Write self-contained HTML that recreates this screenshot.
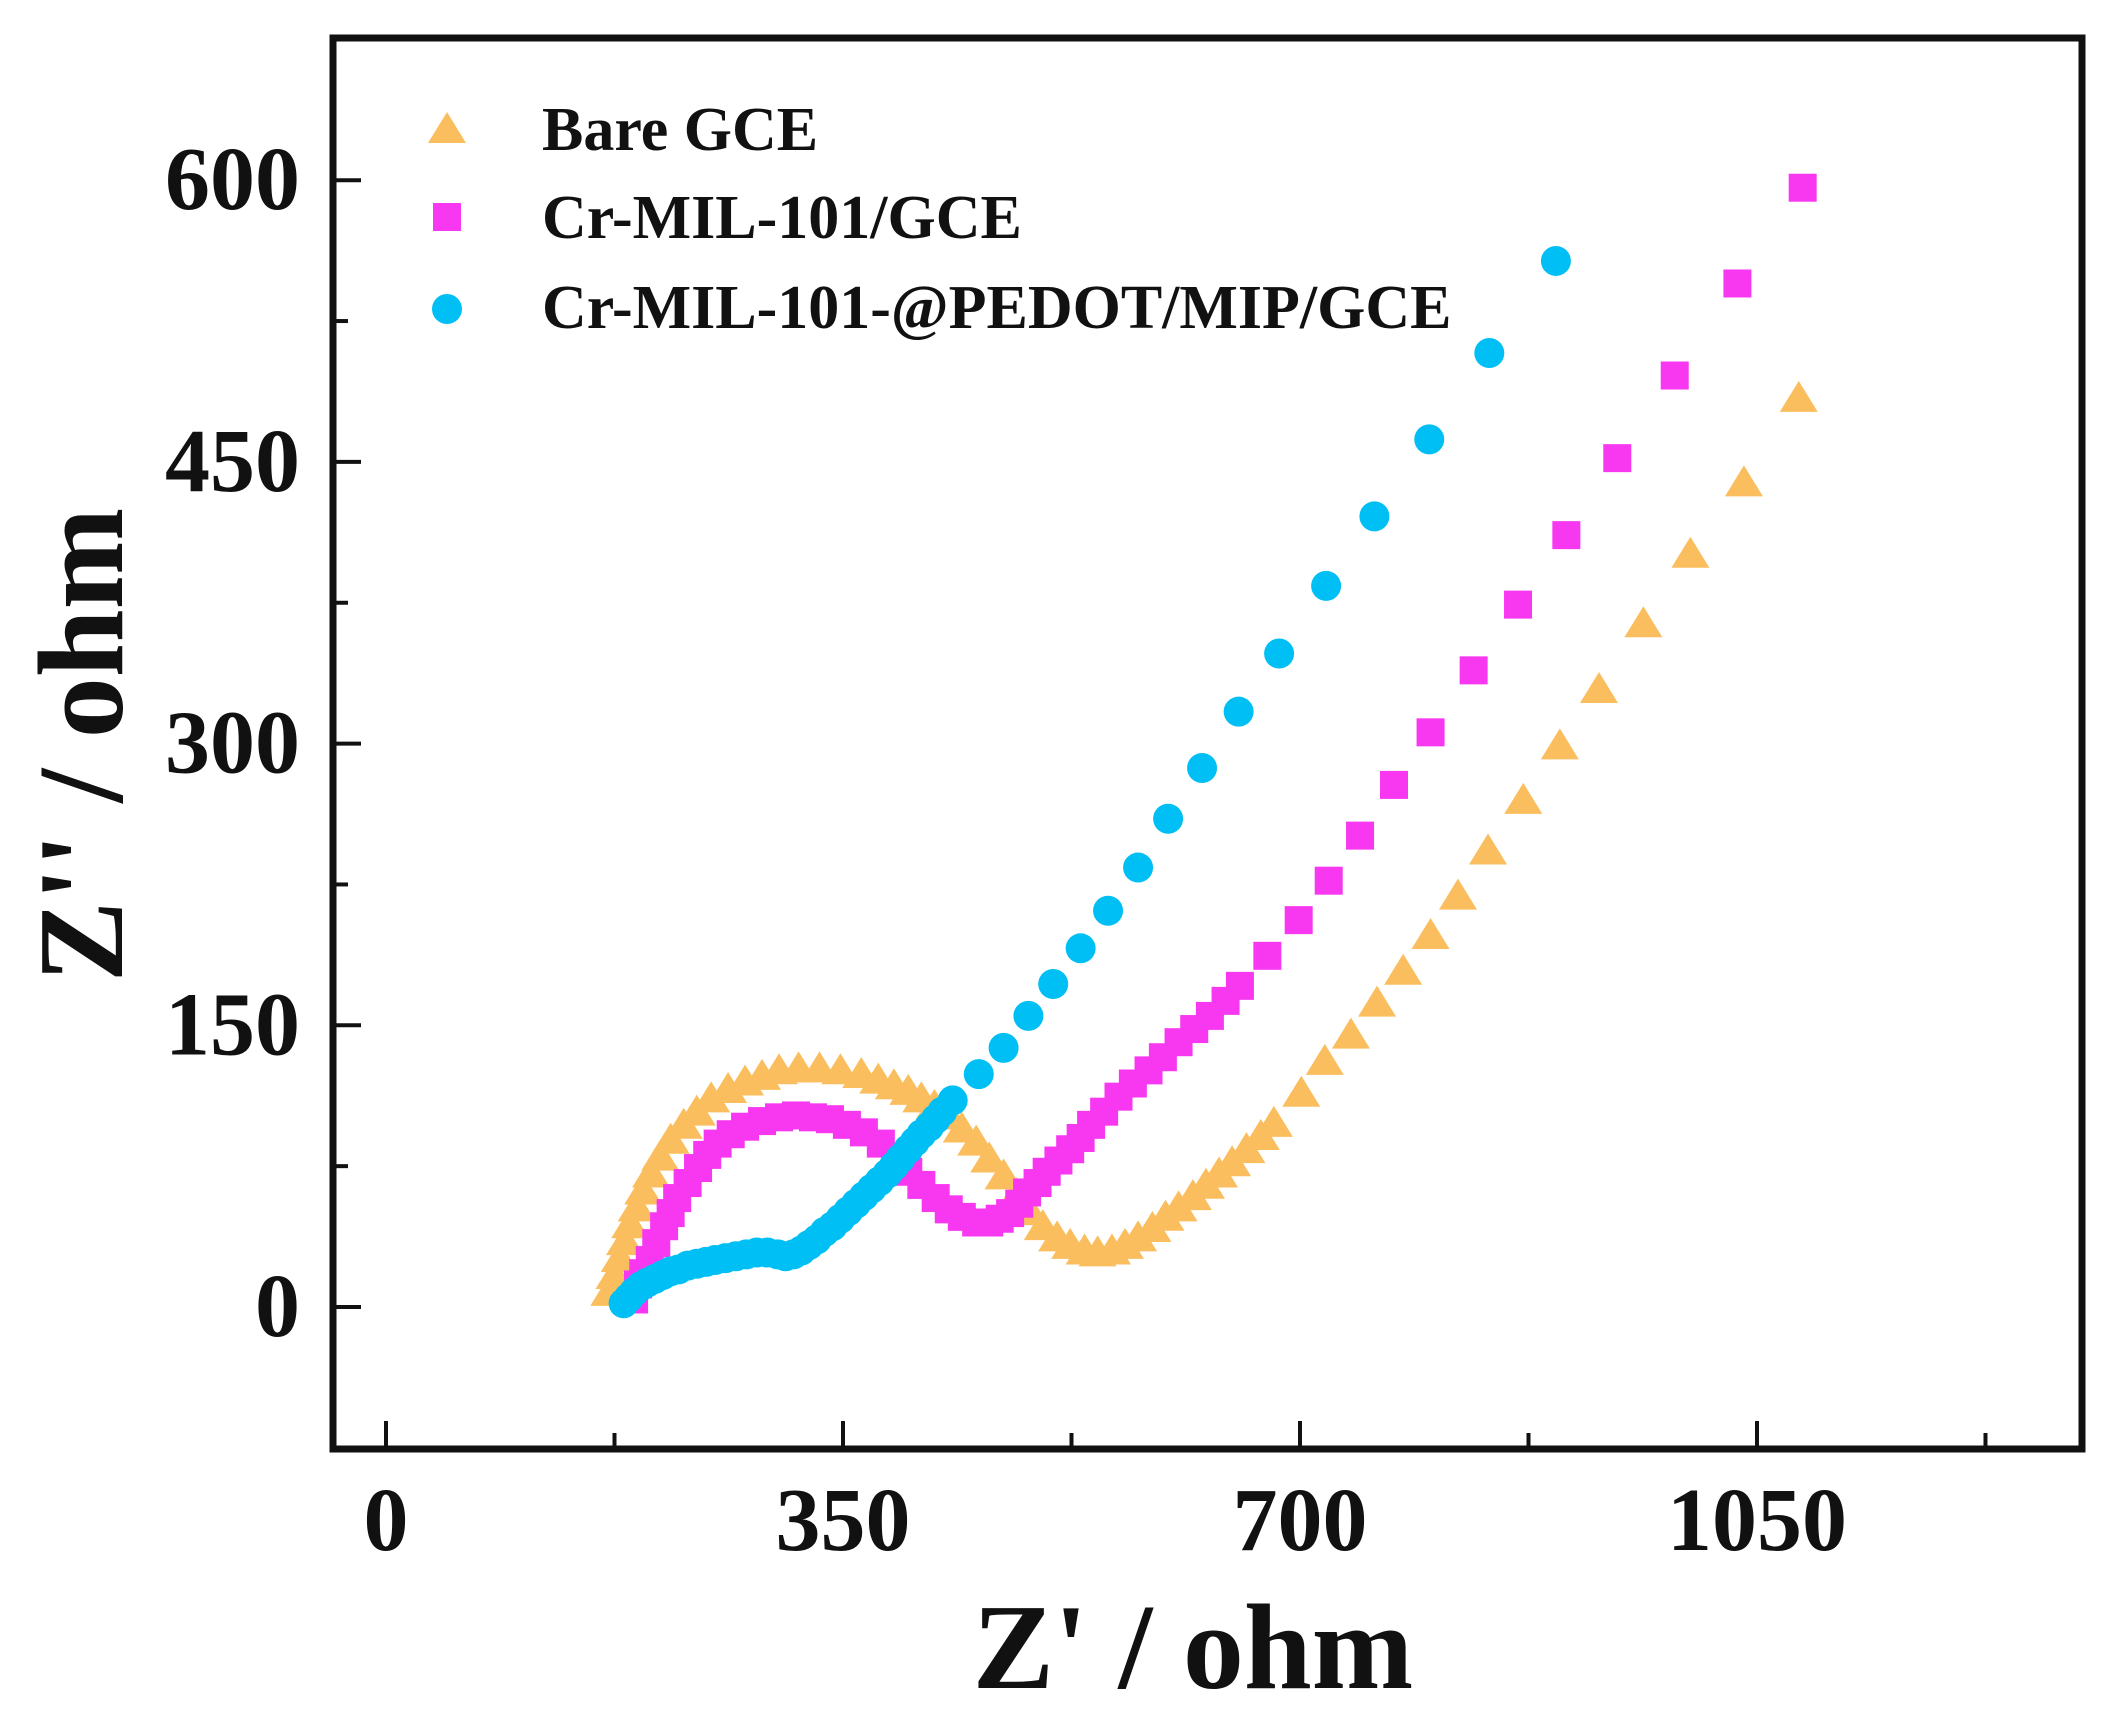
<!DOCTYPE html>
<html><head><meta charset="utf-8"><style>
html,body{margin:0;padding:0;background:#fff;}
svg{display:block;}
text{font-family:"Liberation Serif",serif;font-weight:bold;fill:#111;}
</style></head><body>
<svg id="chart" width="2124" height="1731" viewBox="0 0 2124 1731" xmlns="http://www.w3.org/2000/svg">
<g id="marks"></g>
<rect x="333" y="38" width="1749" height="1411" fill="none" stroke="#111" stroke-width="7"/>
<g id="axes"></g>
<text x="1193" y="1688" font-size="122" text-anchor="middle">Z' / ohm</text>
<text transform="translate(122,745) rotate(-90)" font-size="122" text-anchor="middle">Z'' / ohm</text>
<g>
<polygon points="447,112 466,143 428,143" fill="#FBBE5E"/>
<text x="542" y="150" font-size="62">Bare GCE</text>
<rect x="433" y="203" width="28" height="28" fill="#F838F0"/>
<text x="542" y="238" font-size="62">Cr-MIL-101/GCE</text>
<circle cx="447" cy="309" r="15" fill="#00BFF5"/>
<text x="542" y="328" font-size="62">Cr-MIL-101-@PEDOT/MIP/GCE</text>
</g>
</svg>
<script>
const xTicks=[0,350,700,1050];
const yTicks=[0,150,300,450,600];
const bareX=[171,175,179,183,187,192,197,203,210,218,228,238,249,262,275,288,301,316,332,348,364,377,389,400,410,420,431,441,452,462,473,483,493,503,514,524,535,545,556,566,576,587,597,607,618,628,638,648,659,670,680,701,719,739,759,779,800,821,844,871,899,929,963,999,1040,1082];
const bareY=[7,16,25,34,43,52,61,70,79,88,96,103,110,115,119,122,125,126,126,125,123,120,117,114,110,106,101,94,87,78,69,59,50,42,36,32,29,28,29,32,36,41,47,52,58,64,70,76,83,90,97,113,130,144,161,178,197,218,242,269,298,328,363,400,438,483];
const crX=[190,193,197,202,207,213,218,223,231,239,246,254,264,275,288,301,314,327,340,353,366,379,390,400,410,421,431,441,452,462,470,478,485,491,499,506,515,524,532,540,550,561,572,584,595,607,619,631,643,654,675,699,722,746,772,800,833,867,904,943,987,1035,1085];
const crY=[4,12,18,25,34,43,50,58,66,74,81,87,92,96,99,101,102,101,100,97,93,87,80,72,65,58,52,48,45,45,47,50,55,61,66,72,78,84,90,97,104,112,119,126,133,141,148,155,163,171,187,206,227,251,278,306,339,374,411,452,496,545,596];
const peX=[182,186,190,195,200,206,212,218,224,231,238,245,252,260,268,276,284,292,300,306,312,318,324,330,336,342,348,354,360,366,372,378,384,389,394,400,405,410,416,421,426,434,454,473,492,511,532,553,576,599,625,653,684,720,757,799,845,896];
const peY=[2,5,8,11,13,15,17,19,20,22,23,24,25,26,27,28,29,29,28,27,28,30,33,36,40,43,47,51,55,59,63,67,71,75,79,84,88,92,96,100,104,110,124,138,155,172,191,211,234,260,287,317,348,384,421,462,508,557];
const X0=386, XS=1.3057, Y0=1307, YS=1.878;
function sx(v){return X0+v*XS;}
function sy(v){return Y0-v*YS;}
const NS="http://www.w3.org/2000/svg";
const marks=document.getElementById('marks');
const axes=document.getElementById('axes');
function mk(tag,attrs,parent){const e=document.createElementNS(NS,tag);for(const k in attrs)e.setAttribute(k,attrs[k]);parent.appendChild(e);return e;}
for(let i=0;i<bareX.length;i++){const x=sx(bareX[i]),y=sy(bareY[i]);
 const e=mk('polygon',{points:`${x},${y-19} ${x+19},${y+12} ${x-19},${y+12}`,fill:'#FBBE5E'},marks);
 
 }
for(let i=0;i<crX.length;i++){const x=sx(crX[i]),y=sy(crY[i]);
 const e=mk('rect',{x:x-14,y:y-14,width:28,height:28,fill:'#F838F0'},marks);
 
 }
for(let i=0;i<peX.length;i++){const x=sx(peX[i]),y=sy(peY[i]);
 const e=mk('circle',{cx:x,cy:y,r:15,fill:'#00BFF5'},marks);
 
 }
for(let v=0;v<=1225;v+=175){const x=sx(v);const major=(v%350===0);
 const t=mk('line',{x1:x,x2:x,y1:1447,y2:major?1421:1433,stroke:'#111','stroke-width':4},axes);
 
 }
xTicks.forEach(v=>{const t=mk('text',{x:sx(v),y:1550,'font-size':90,'text-anchor':'middle'},axes);t.textContent=v;
 
 });
for(let v=-75;v<=675;v+=75){const y=sy(v);if(y<40||y>1447)continue;const major=(v%150===0);
 const t=mk('line',{x1:335,x2:major?361:348,y1:y,y2:y,stroke:'#111','stroke-width':4},axes);
 
 }
yTicks.forEach(v=>{const t=mk('text',{x:300,y:sy(v)+29,'font-size':90,'text-anchor':'end'},axes);t.textContent=v;
 
 });
</script>
</body></html>
